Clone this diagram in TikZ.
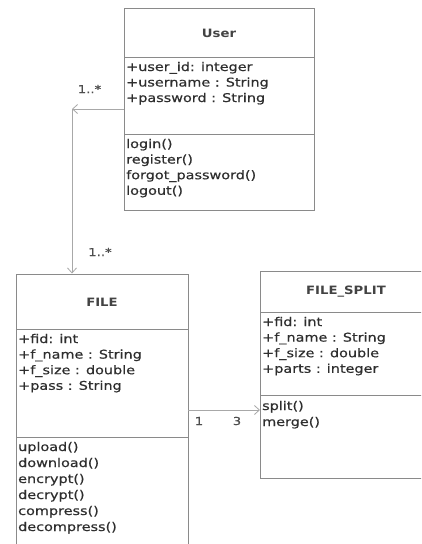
\documentclass[tikz,border=0pt]{standalone}
\usepackage{fontspec}
\newfontfamily\umlfont[FakeStretch=1.2,FakeBold=0.45]{DejaVu Sans}
\newfontfamily\umltitle[FakeStretch=1.15]{DejaVu Sans Bold}
\usetikzlibrary{arrows.meta}
\definecolor{boxline}{HTML}{8A8A8A}
\definecolor{txtcol}{HTML}{2E2E2E}
\definecolor{conn}{HTML}{A8A8A8}
\begin{document}
\begin{tikzpicture}[x=1pt,y=-1pt,
  box/.style={draw=boxline, line width=0.9pt, rectangle, inner sep=0pt, anchor=north west},
  sepline/.style={draw=boxline, line width=0.9pt},
  txt/.style={font=\umlfont\fontsize{12}{14}\selectfont, text=txtcol, inner sep=0pt, anchor=west, text height=8.6pt, text depth=2.6pt},
  ttl/.style={font=\umltitle\fontsize{11.5}{14}\selectfont, text=txtcol!90, inner sep=0pt},
  lbl/.style={font=\umlfont\fontsize{11}{13}\selectfont, text=txtcol!85, inner sep=0pt},
  assoc/.style={draw=conn, line width=0.8pt, -{Straight Barb[length=5pt,width=9pt,line width=0.8pt]}}
]
\useasboundingbox (0,0) rectangle (421,544);
\clip (0,0) rectangle (421,544);
\fill[white] (0,0) rectangle (421,544);

% User
\node[box, minimum width=190pt, minimum height=202pt] (user) at (124,8) {};
\draw[sepline] (user.west |- 0,57) -- (user.east |- 0,57);
\draw[sepline] (user.west |- 0,134) -- (user.east |- 0,134);
\node[ttl] (usert) at (219,33) {User};
\node[txt] (ua1) at (126,68) {+user\_id: integer};
\node[txt] (ua2) at (126,83.5) {+username : String};
\node[txt] (ua3) at (126,99) {+password : String};
\node[txt] (um1) at (126,145) {login()};
\node[txt] (um2) at (126,160.6) {register()};
\node[txt] (um3) at (126,176.2) {forgot\_password()};
\node[txt] (um4) at (126,191.8) {logout()};

% FILE
\node[box, minimum width=172pt, minimum height=290pt] (file) at (16,273.5) {};
\draw[sepline] (file.west |- 0,329) -- (file.east |- 0,329);
\draw[sepline] (file.west |- 0,437) -- (file.east |- 0,437);
\node[ttl] (filet) at (102,302) {FILE};
\node[txt] (fa1) at (18,340) {+fid: int};
\node[txt] (fa2) at (18,355.6) {+f\_name : String};
\node[txt] (fa3) at (18,371.2) {+f\_size : double};
\node[txt] (fa4) at (18,386.8) {+pass : String};
\node[txt] (fm1) at (18,448) {upload()};
\node[txt] (fm2) at (18,464) {download()};
\node[txt] (fm3) at (18,480) {encrypt()};
\node[txt] (fm4) at (18,496) {decrypt()};
\node[txt] (fm5) at (18,512) {compress()};
\node[txt] (fm6) at (18,528) {decompress()};

% FILE_SPLIT
\node[box, minimum width=172pt, minimum height=207pt] (split) at (260,271) {};
\draw[sepline] (split.west |- 0,312) -- (split.east |- 0,312);
\draw[sepline] (split.west |- 0,395) -- (split.east |- 0,395);
\node[ttl] (splitt) at (346,292) {FILE\_SPLIT};
\node[txt] (sa1) at (262,323) {+fid: int};
\node[txt] (sa2) at (262,338.6) {+f\_name : String};
\node[txt] (sa3) at (262,354.2) {+f\_size : double};
\node[txt] (sa4) at (262,369.8) {+parts : integer};
\node[txt] (sm1) at (262,407) {split()};
\node[txt] (sm2) at (262,423) {merge()};

% connectors
\coordinate (corner) at (72,109);
\draw[assoc] (user.west |- corner) -- (corner);
\draw[assoc] (corner) -- (corner |- file.north);
\coordinate (fs) at (188,410);
\draw[assoc] (fs) -- (split.west |- fs);

% multiplicities
\node[lbl] (m1) at (89.5,89) {1..*};
\node[lbl] (m2) at (100,252) {1..*};
\node[lbl] (m3) at (199,421) {1};
\node[lbl] (m4) at (237,421) {3};
\end{tikzpicture}
\end{document}
